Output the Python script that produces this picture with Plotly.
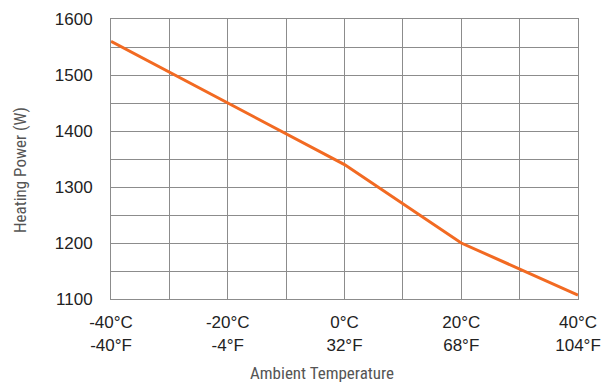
import plotly.graph_objects as go

temps_c = [-40, 0, 20, 40]
power_w = [1560, 1340, 1200, 1107]
tick_vals = [-40, -20, 0, 20, 40]
tick_text = ["-40°C<br>-40°F", "-20°C<br>-4°F", "0°C<br>32°F", "20°C<br>68°F", "40°C<br>104°F"]
y_ticks = [1100, 1200, 1300, 1400, 1500, 1600]
x_title = "Ambient Temperature"
y_title = "Heating Power (W)"

grid = "#8c8c8c"
title_font = dict(family="Liberation Sans Narrow, Roboto Condensed, Roboto", size=17, color="#555")
fig = go.Figure()
fig.add_trace(go.Scatter(x=temps_c, y=power_w, mode="lines",
                         line=dict(color="#F26A22", width=3), hoverinfo="skip"))
fig.update_layout(
    width=603, height=384,
    margin=dict(l=111, r=25, t=19, b=85),
    paper_bgcolor="white", plot_bgcolor="white",
    showlegend=False,
    font=dict(family="Liberation Sans", color="#222"),
)
fig.update_xaxes(
    range=[-40, 40], tickvals=tick_vals, ticktext=tick_text, automargin=False,
    tickfont=dict(size=17, family="Liberation Sans", color="#222"),
    showgrid=True, gridcolor=grid, gridwidth=1,
    minor=dict(dtick=10, tick0=-40, showgrid=True, gridcolor=grid, gridwidth=1),
    showline=True, mirror=True, linecolor=grid, linewidth=1,
    zeroline=False, ticks="", ticklabelstandoff=8,
)
fig.update_yaxes(
    range=[1100, 1600], tickvals=y_ticks, automargin=False,
    tickfont=dict(size=17, family="Liberation Sans", color="#222"),
    showgrid=True, gridcolor=grid, gridwidth=1,
    minor=dict(dtick=50, tick0=1100, showgrid=True, gridcolor=grid, gridwidth=1),
    showline=True, mirror=True, linecolor=grid, linewidth=1,
    zeroline=False, ticks="", ticklabelstandoff=14,
)
fig.add_annotation(text=x_title, xref="paper", yref="paper", x=(322 - 111) / 467, y=-(373 - 299) / 280,
                   xanchor="center", yanchor="middle", showarrow=False, font=title_font)
fig.add_annotation(text=y_title, xref="paper", yref="paper", x=-(111 - 20) / 467, y=(299 - 170) / 280,
                   xanchor="center", yanchor="middle", showarrow=False, textangle=-90, font=title_font)
fig.write_html("out.html", config={"displayModeBar": False},
               post_script="document.body.style.margin='0';document.body.style.overflow='hidden';")
